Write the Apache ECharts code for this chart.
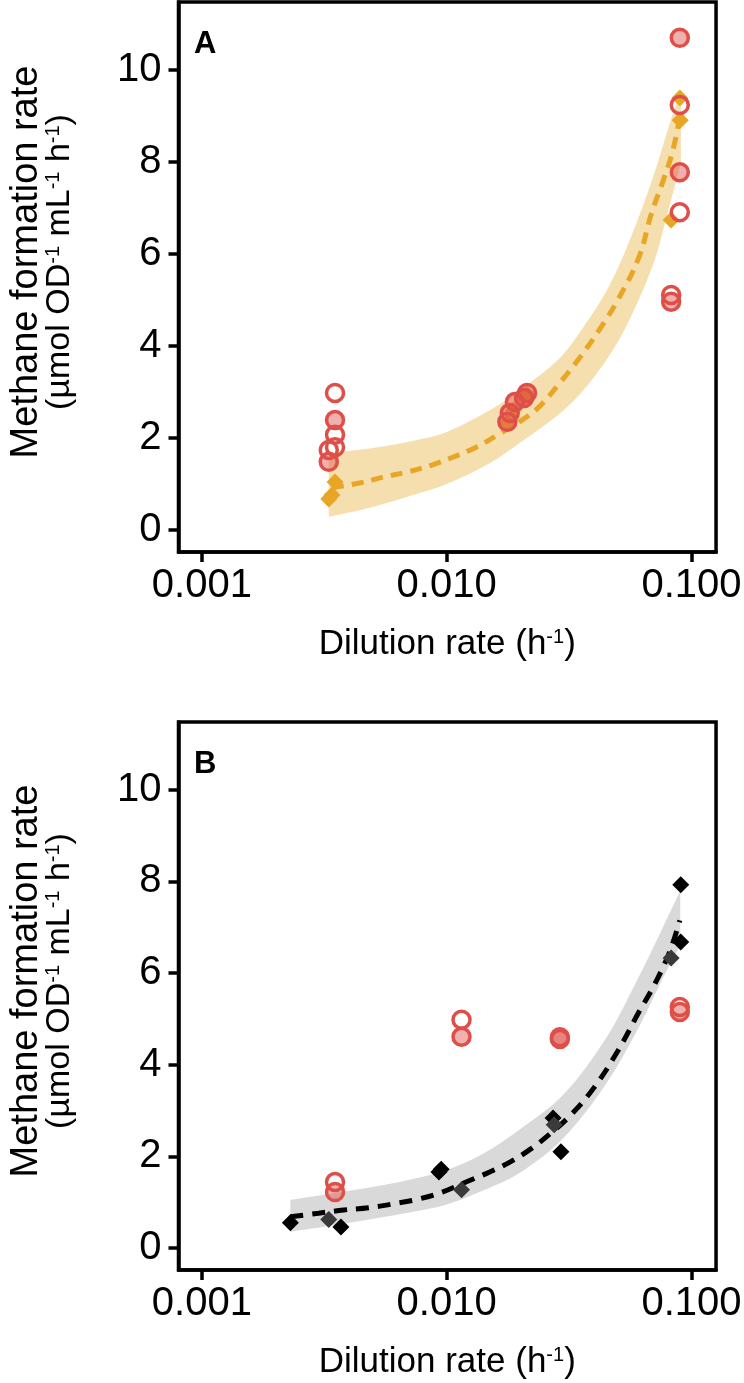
<!DOCTYPE html>
<html>
<head>
<meta charset="utf-8">
<script src="https://cdn.jsdelivr.net/npm/echarts@6/dist/echarts.min.js"></script>
<style>
html,body{margin:0;padding:0;background:#fff;}
#chart{width:744px;height:1383px;}
</style>
</head>
<body>
<div id="chart"></div>
<script>
// ---------- tick labels ----------
const xTickValues = [0.001, 0.01, 0.1];
const yTickValues = [0, 2, 4, 6, 8, 10];

// ---------- Panel A ----------
const A_diamonds = [[0.0035,1.04],[0.0034,0.76],[0.0033,0.67],[0.0177,2.33],[0.0187,2.6],[0.0205,2.85],[0.0213,2.95],[0.0896,9.39],[0.0900,8.91],[0.0826,6.74]];
const A_circlesOpen = [[0.0035,2.98],[0.0035,2.07],[0.0035,1.80],[0.0033,1.74],[0.0896,9.24],[0.0896,6.91],[0.0826,5.11]];
const A_circlesFilled = [[0.0035,2.39],[0.0033,1.48],[0.0177,2.35],[0.0181,2.54],[0.0190,2.78],[0.0207,2.87],[0.0213,2.98],[0.0896,10.7],[0.0896,7.78],[0.0826,4.96]];
const A_fit = [[0.0034,0.92],[0.0044,1.02],[0.0055,1.15],[0.0069,1.26],[0.0087,1.41],[0.0107,1.59],[0.0132,1.80],[0.0162,2.07],[0.0198,2.35],[0.0238,2.67],[0.0285,3.15],[0.035,3.75],[0.042,4.35],[0.05,5.0],[0.061,5.93],[0.0687,6.89],[0.0767,7.6],[0.084,8.26],[0.0905,9.1]];
const A_bandUpper = [[0.0033,1.67],[0.005,1.78],[0.0075,1.95],[0.01,2.13],[0.015,2.6],[0.02,3.05],[0.0285,3.7],[0.035,4.3],[0.045,5.2],[0.055,6.2],[0.07,7.7],[0.08,8.7],[0.0905,9.55]];
const A_bandLower = [[0.00327,0.28],[0.005,0.5],[0.0075,0.78],[0.01,1.0],[0.015,1.45],[0.02,1.9],[0.0285,2.5],[0.035,2.95],[0.045,3.7],[0.055,4.5],[0.07,5.8],[0.08,6.9],[0.0913,8.05]];

// ---------- Panel B ----------
const B_diamondsBlack = [[0.0023,0.55],[0.0037,0.46],[0.0093,1.66],[0.0095,1.72],[0.0272,2.84],[0.0293,2.1],[0.0904,7.93],[0.0904,6.68]];
const B_diamondsGray = [[0.0033,0.62],[0.0115,1.27],[0.0275,2.69],[0.0826,6.33]];
const B_circlesOpen = [[0.0035,1.44],[0.0115,4.98],[0.0896,5.26]];
const B_circlesFilled = [[0.0035,1.22],[0.0115,4.61],[0.029,4.56],[0.029,4.6],[0.0896,5.15]];
const B_fit = [[0.0023,0.68],[0.003,0.76],[0.0038,0.83],[0.0048,0.88],[0.006,0.96],[0.0077,1.07],[0.0096,1.22],[0.012,1.44],[0.015,1.66],[0.0182,1.88],[0.0223,2.18],[0.0267,2.51],[0.0321,2.9],[0.04,3.5],[0.05,4.3],[0.061,5.15],[0.0687,5.63],[0.0767,6.14],[0.0826,6.55],[0.0896,7.15]];
const B_bandUpper = [[0.0023,1.05],[0.0035,1.2],[0.0056,1.38],[0.0075,1.52],[0.01,1.7],[0.014,2.05],[0.02,2.6],[0.03,3.35],[0.045,4.6],[0.06,5.85],[0.075,6.9],[0.09,7.8]];
const B_bandLower = [[0.00228,0.35],[0.0035,0.5],[0.0056,0.68],[0.0075,0.8],[0.01,0.95],[0.014,1.25],[0.02,1.65],[0.03,2.4],[0.045,3.6],[0.06,4.75],[0.075,5.8],[0.0908,6.65]];

// ---------- text ----------
const xTitle = 'Dilution rate (h{sup|-1})';
const yTitle = '{a|Methane formation rate}\n{b|(µmol OD}{s|-1}{b| mL}{s|-1}{b| h}{s|-1}{b|)}';
const panelLabels = ['A', 'B'];

const FONT = 'Liberation Sans, Arial, Helvetica, sans-serif';
const RED = '#de4f49';
const PINK = 'rgba(222,79,73,0.45)';
const ORANGE = '#e8a626';
const BAND_A = '#f6dfae';
const BAND_B = '#d9d9d9';

const gridTops = [2, 722];
const gridHeights = [550, 548];

const chart = echarts.init(document.getElementById('chart'), null, {renderer: 'canvas'});

function makeX(i) {
  return {
    type: 'log', logBase: 10, gridIndex: i,
    min: 0.000803, max: 0.1260,
    name: xTitle, nameLocation: 'middle', nameGap: 75,
    nameTextStyle: {fontSize: 35, color: '#000', fontFamily: FONT,
      rich: {sup: {fontSize: 20, lineHeight: 20, verticalAlign: 'top', color: '#000', fontFamily: FONT}}},
    axisLine: {show: true, onZero: false, lineStyle: {color: '#000', width: 3.5}},
    axisTick: {show: true, customValues: xTickValues, length: 10, lineStyle: {color: '#000', width: 3.5}},
    axisLabel: {customValues: xTickValues, margin: 14, fontSize: 40, color: '#000', fontFamily: FONT,
      formatter: v => Number(v).toFixed(3)},
    splitLine: {show: false}, minorTick: {show: false}
  };
}
function makeY(i) {
  return {
    type: 'value', gridIndex: i, min: -0.48, max: 11.48,
    name: yTitle, nameLocation: 'middle', nameGap: 103, nameRotate: 90,
    nameTextStyle: {color: '#000', fontFamily: FONT, padding: [0,0,0,30],
      rich: {
        a: {fontSize: 38, lineHeight: 33, color: '#000', fontFamily: FONT},
        b: {fontSize: 34, lineHeight: 32, color: '#000', fontFamily: FONT},
        s: {fontSize: 20, lineHeight: 20, verticalAlign: 'top', color: '#000', fontFamily: FONT}
      }},
    axisLine: {show: true, onZero: false, lineStyle: {color: '#000', width: 3.5}},
    axisTick: {show: true, customValues: yTickValues, length: 10, lineStyle: {color: '#000', width: 3.5}},
    axisLabel: {customValues: yTickValues, margin: 17, fontSize: 40, color: '#000', fontFamily: FONT},
    splitLine: {show: false}
  };
}

// Band = area under the upper edge (band colour) with area under the lower edge painted white on top.
function bandSeries(i, upper, lower, color) {
  const common = {type: 'line', xAxisIndex: i, yAxisIndex: i, symbol: 'none', smooth: 0.35, silent: true,
    lineStyle: {width: 0, opacity: 0}};
  return [
    Object.assign({}, common, {data: upper, z: 1, areaStyle: {color: color, opacity: 1}}),
    Object.assign({}, common, {data: lower, z: 1.5, areaStyle: {color: '#ffffff', opacity: 1}})
  ];
}
function fitSeries(i, data, color, dash) {
  return {type: 'line', xAxisIndex: i, yAxisIndex: i, data: data, symbol: 'none', smooth: 0.4, z: 3,
    lineStyle: {color: color, width: 5, type: dash, cap: 'butt'}, silent: true};
}
function scatter(i, data, symbol, size, style, z) {
  return {type: 'scatter', xAxisIndex: i, yAxisIndex: i, data: data, symbol: symbol, symbolSize: size,
    itemStyle: Object.assign({opacity: 1}, style), z: z, silent: true};
}

const option = {
  animation: false,
  backgroundColor: '#fff',
  grid: gridTops.map((t, i) => ({left: 167, top: t, width: 552, height: gridHeights[i],
    show: true, borderColor: '#000', borderWidth: 3.5, backgroundColor: 'transparent', containLabel: false})),
  xAxis: [makeX(0), makeX(1)],
  yAxis: [makeY(0), makeY(1)],
  graphic: panelLabels.map((t, i) => ({type: 'text', left: 194, top: gridTops[i] + 27, z: 100,
    style: {text: t, fontSize: 31, fontWeight: 'bold', fill: '#000', fontFamily: FONT}})),
  series: [
    ...bandSeries(0, A_bandUpper, A_bandLower, BAND_A),
    fitSeries(0, A_fit, ORANGE, [12, 8]),
    scatter(0, A_diamonds, 'diamond', 17, {color: ORANGE}, 4),
    scatter(0, A_circlesOpen, 'circle', 17, {color: 'rgba(0,0,0,0)', borderColor: RED, borderWidth: 3.5}, 5),
    scatter(0, A_circlesFilled, 'circle', 17, {color: PINK, borderColor: RED, borderWidth: 3.5}, 5),
    ...bandSeries(1, B_bandUpper, B_bandLower, BAND_B),
    fitSeries(1, B_fit, '#000', [13, 9]),
    scatter(1, B_diamondsBlack, 'diamond', 17, {color: '#000'}, 4),
    scatter(1, B_diamondsGray, 'diamond', 17, {color: '#3a3a3a'}, 4),
    scatter(1, B_circlesOpen, 'circle', 17, {color: 'rgba(0,0,0,0)', borderColor: RED, borderWidth: 3.5}, 5),
    scatter(1, B_circlesFilled, 'circle', 17, {color: PINK, borderColor: RED, borderWidth: 3.5}, 5)
  ]
};
chart.setOption(option);
</script>
</body>
</html>
